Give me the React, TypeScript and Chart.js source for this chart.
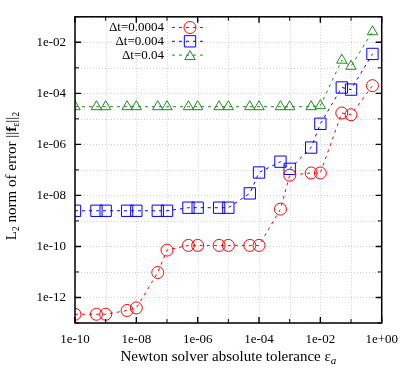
import React, { useEffect, useRef } from 'react';
import { Chart, registerables } from 'chart.js';

Chart.register(...registerables);

// ---- data ----
const tolerances = [1e-10, 5e-10, 1e-9, 5e-9, 1e-8, 5e-8, 1e-7, 5e-7, 1e-6, 5e-6, 1e-5, 5e-5, 1e-4, 5e-4, 1e-3, 5e-3, 1e-2, 5e-2, 1e-1, 5e-1];
const errDt0004 = [2.2e-13, 2.2e-13, 2.2e-13, 3.1e-13, 3.9e-13, 9.5e-12, 7.2e-11, 1.1e-10, 1.1e-10, 1.1e-10, 1.1e-10, 1.1e-10, 1.1e-10, 2.9e-9, 6.2e-8, 7.6e-8, 7.6e-8, 1.7e-5, 1.45e-5, 2.0e-4];
const errDt004 = [2.5e-9, 2.5e-9, 2.5e-9, 2.5e-9, 2.5e-9, 2.5e-9, 2.5e-9, 3.3e-9, 3.3e-9, 3.3e-9, 3.3e-9, 1.2e-8, 7.9e-8, 2.1e-7, 1.1e-7, 7.5e-7, 6.4e-6, 1.7e-4, 1.4e-4, 3.5e-3];
const errDt04 = [3.0e-5, 3.0e-5, 3.0e-5, 3.0e-5, 3.0e-5, 3.0e-5, 3.0e-5, 3.0e-5, 3.0e-5, 3.0e-5, 3.0e-5, 3.0e-5, 3.0e-5, 3.0e-5, 3.0e-5, 3.0e-5, 3.3e-5, 2.0e-3, 1.15e-3, 2.6e-2];
const seriesLabels = ['\u0394t=0.0004', '\u0394t=0.004', '\u0394t=0.04'];

const xTickValues = [1e-10, 1e-9, 1e-8, 1e-7, 1e-6, 1e-5, 1e-4, 1e-3, 1e-2, 1e-1, 1];
const xTickLabels = ['1e-10', '', '1e-08', '', '1e-06', '', '1e-04', '', '1e-02', '', '1e+00'];
const yTickValues = [1e-13, 1e-12, 1e-11, 1e-10, 1e-9, 1e-8, 1e-7, 1e-6, 1e-5, 1e-4, 1e-3, 1e-2, 1e-1];
const yTickLabels = ['', '1e-12', '', '1e-10', '', '1e-08', '', '1e-06', '', '1e-04', '', '1e-02', ''];

const xTitle = 'Newton solver absolute tolerance \u03b5';
const xTitleSub = 'a';

const RED = 'rgb(255,0,0)';
const BLUE = 'rgb(0,0,255)';
const GREEN = 'rgb(30,139,30)';
const SERIF = '"Liberation Serif", "Times New Roman", Times, serif';

type Seg = { t: string; font: string; dy: number };

function drawRich(ctx: CanvasRenderingContext2D, segs: Seg[], x: number, y: number) {
  let total = 0;
  const widths = segs.map((s) => {
    ctx.font = s.font;
    const w = ctx.measureText(s.t).width;
    total += w;
    return w;
  });
  let cx = x - total / 2;
  ctx.textAlign = 'left';
  ctx.textBaseline = 'alphabetic';
  segs.forEach((s, i) => {
    ctx.font = s.font;
    ctx.fillText(s.t, cx, y + s.dy);
    cx += widths[i];
  });
}

function drawMarker(ctx: CanvasRenderingContext2D, style: string, x: number, y: number, r: number) {
  ctx.beginPath();
  if (style === 'circle') {
    ctx.arc(x, y, r, 0, Math.PI * 2);
  } else if (style === 'rect') {
    const s = Math.SQRT1_2 * r;
    ctx.rect(x - s, y - s, 2 * s, 2 * s);
  } else {
    ctx.moveTo(x, y - r);
    ctx.lineTo(x + r * Math.sin((2 * Math.PI) / 3), y - r * Math.cos((2 * Math.PI) / 3));
    ctx.lineTo(x + r * Math.sin((4 * Math.PI) / 3), y - r * Math.cos((4 * Math.PI) / 3));
    ctx.closePath();
  }
  ctx.stroke();
}

const framePlugin = {
  id: 'gnuFrame',
  beforeDatasetsDraw(chart: any) {
    const { ctx, chartArea: a, scales } = chart;
    ctx.save();
    ctx.strokeStyle = '#cfcfcf';
    ctx.lineWidth = 1;
    ctx.setLineDash([1, 2]);
    xTickValues.forEach((v) => {
      const px = Math.round(scales.x.getPixelForValue(v)) + 0.5;
      ctx.beginPath();
      ctx.moveTo(px, a.top);
      ctx.lineTo(px, a.bottom);
      ctx.stroke();
    });
    yTickValues.forEach((v) => {
      const py = Math.round(scales.y.getPixelForValue(v)) + 0.5;
      ctx.beginPath();
      ctx.moveTo(a.left, py);
      ctx.lineTo(a.right, py);
      ctx.stroke();
    });
    ctx.restore();
  },
  afterDraw(chart: any) {
    const { ctx, chartArea: a, scales } = chart;
    ctx.save();
    ctx.setLineDash([]);
    ctx.strokeStyle = '#000';
    // ticks
    xTickValues.forEach((v, i) => {
      const px = scales.x.getPixelForValue(v);
      const len = xTickLabels[i] ? 6 : 4;
      ctx.lineWidth = xTickLabels[i] ? 1.4 : 1;
      ctx.beginPath();
      ctx.moveTo(px, a.bottom);
      ctx.lineTo(px, a.bottom - len);
      ctx.moveTo(px, a.top);
      ctx.lineTo(px, a.top + len);
      ctx.stroke();
    });
    yTickValues.forEach((v, i) => {
      const py = scales.y.getPixelForValue(v);
      const len = yTickLabels[i] ? 6 : 4;
      ctx.lineWidth = yTickLabels[i] ? 1.4 : 1;
      ctx.beginPath();
      ctx.moveTo(a.left, py);
      ctx.lineTo(a.left + len, py);
      ctx.moveTo(a.right, py);
      ctx.lineTo(a.right - len, py);
      ctx.stroke();
    });
    // frame
    ctx.lineWidth = 1.5;
    ctx.strokeRect(a.left, a.top, a.right - a.left, a.bottom - a.top);

    // legend
    ctx.font = '13px ' + SERIF;
    chart.data.datasets.forEach((ds: any, i: number) => {
      const y = 27.5 + i * 13.8;
      ctx.fillStyle = '#000';
      ctx.textAlign = 'right';
      ctx.textBaseline = 'middle';
      ctx.fillText(ds.label, 164, y + 0.5);
      ctx.strokeStyle = ds.borderColor;
      ctx.lineWidth = 1;
      ctx.setLineDash(ds.borderDash);
      ctx.beginPath();
      ctx.moveTo(172, y);
      ctx.lineTo(207, y);
      ctx.stroke();
      ctx.setLineDash([]);
      drawMarker(ctx, ds.pointStyle, 190, ds.pointStyle === 'triangle' ? y + 1.5 : y, ds.pointRadius);
    });

    // titles
    ctx.fillStyle = '#000';
    drawRich(
      ctx,
      [
        { t: xTitle, font: '15px ' + SERIF, dy: 0 },
        { t: xTitleSub, font: 'italic 11px ' + SERIF, dy: 3 },
      ],
      (a.left + a.right) / 2,
      361
    );
    ctx.save();
    ctx.translate(16, 176);
    ctx.rotate(-Math.PI / 2);
    drawRich(
      ctx,
      [
        { t: 'L', font: '15px ' + SERIF, dy: 0 },
        { t: '2', font: '10px ' + SERIF, dy: 3 },
        { t: ' norm of error ||', font: '15px ' + SERIF, dy: 0 },
        { t: 'f', font: 'bold 15px ' + SERIF, dy: 0 },
        { t: '\u03b5', font: '10px ' + SERIF, dy: 3 },
        { t: '||', font: '15px ' + SERIF, dy: 0 },
        { t: '2', font: '10px ' + SERIF, dy: 3 },
      ],
      0,
      0
    );
    ctx.restore();
    ctx.restore();
  },
};

export default function App() {
  const ref = useRef<HTMLCanvasElement | null>(null);
  useEffect(() => {
    if (!ref.current) return;
    const mk = (label: string, ys: number[], color: string, style: string, r: number) => ({
      label,
      data: tolerances.map((x, i) => ({ x, y: ys[i] })),
      showLine: true,
      borderColor: color,
      borderWidth: 1,
      borderDash: [3, 4],
      pointStyle: style,
      pointRadius: r,
      pointBorderColor: color,
      pointBackgroundColor: 'rgba(0,0,0,0)',
      pointBorderWidth: 1,
      fill: false,
    });
    const chart = new Chart(ref.current, {
      type: 'scatter',
      data: {
        datasets: [
          mk(seriesLabels[0], errDt0004, RED, 'circle', 6),
          mk(seriesLabels[1], errDt004, BLUE, 'rect', 8),
          mk(seriesLabels[2], errDt04, GREEN, 'triangle', 6),
        ] as any,
      },
      options: {
        animation: false,
        responsive: false,
        layout: { padding: { top: 16, right: 25, left: 0, bottom: 0 } },
        plugins: { legend: { display: false }, tooltip: { enabled: false } },
        scales: {
          x: {
            type: 'logarithmic',
            min: 1e-10,
            max: 1,
            grid: { display: false, drawTicks: false },
            border: { display: false },
            afterBuildTicks: (s: any) => {
              s.ticks = xTickValues.map((v) => ({ value: v }));
            },
            afterFit: (s: any) => {
              s.height = 57;
            },
            ticks: {
              autoSkip: false,
              maxRotation: 0,
              padding: 9,
              color: '#000',
              font: { family: SERIF, size: 13 },
              callback: (_v: any, i: number) => xTickLabels[i],
            },
          },
          y: {
            type: 'logarithmic',
            min: 1e-13,
            max: 1e-1,
            grid: { display: false, drawTicks: false },
            border: { display: false },
            afterBuildTicks: (s: any) => {
              s.ticks = yTickValues.map((v) => ({ value: v }));
            },
            afterFit: (s: any) => {
              s.width = 75;
            },
            ticks: {
              autoSkip: false,
              padding: 9,
              color: '#000',
              font: { family: SERIF, size: 13 },
              callback: (_v: any, i: number) => yTickLabels[i],
            },
          },
        },
      } as any,
      plugins: [framePlugin],
    });
    return () => chart.destroy();
  }, []);
  return (
    <div style={{ position: 'absolute', left: 0, top: 0, width: 407, height: 380, background: '#fff' }}>
      <canvas ref={ref} width={407} height={380} />
    </div>
  );
}
